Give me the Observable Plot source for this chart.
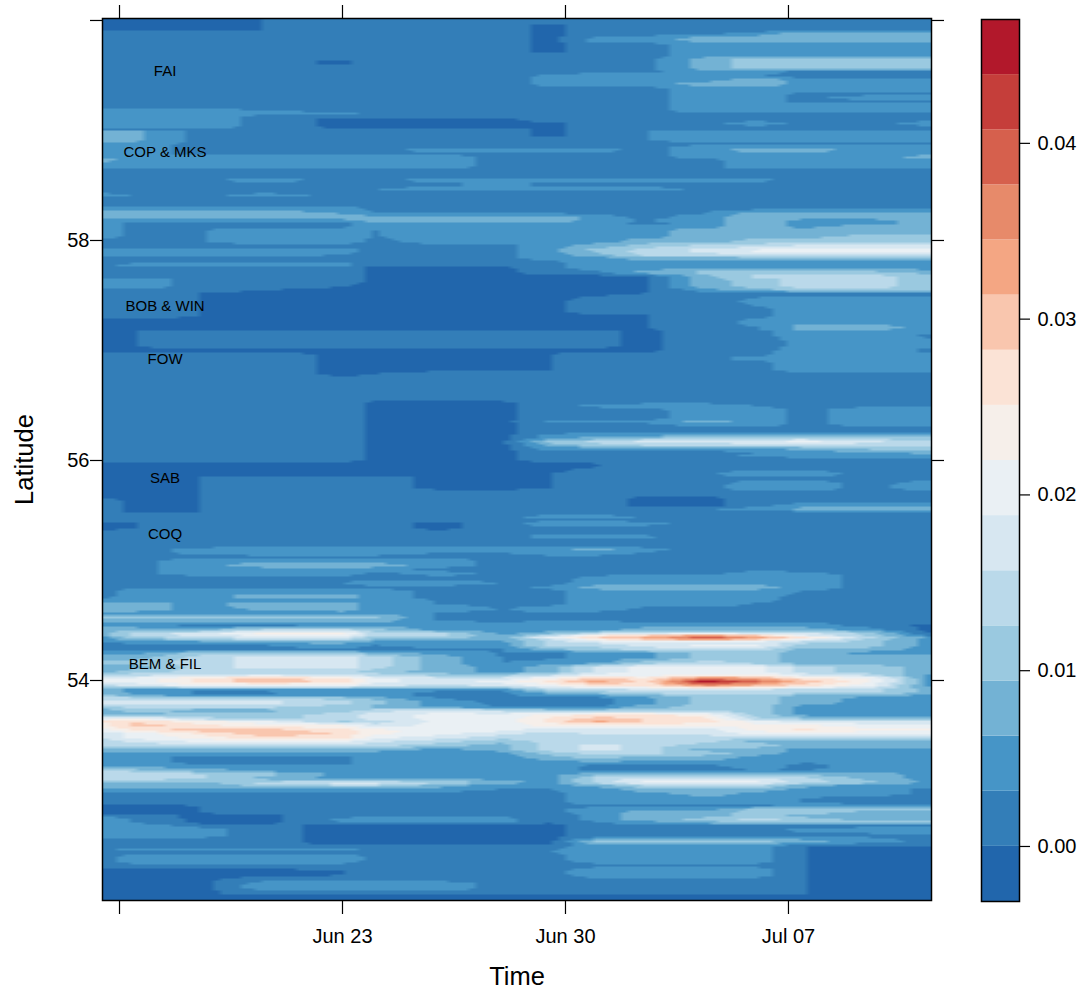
<!DOCTYPE html>
<html><head><meta charset="utf-8">
<script src="https://cdn.jsdelivr.net/npm/d3@7"></script>
<script src="https://cdn.jsdelivr.net/npm/@observablehq/plot@0.6"></script>
<style>
html,body{margin:0;padding:0;background:#fff}
#chart{position:relative;width:1087px;height:994px}
#chart svg{position:absolute;left:0;top:0;background:transparent}
</style></head><body><div id="chart"></div>
<script>
// Days since Jun 16 of each column of the value rows
const dayKnots = [-0.53,0.5,2.5,4.5,7,8,10,12,13.5,15,16.5,18.4,20,21.5,23.5,25.49];
const timeTicks = [0,7,14,21];
const timeLabels = ["","Jun 23","Jun 30","Jul 07"];
const latTicks = [54,56,58,60];
const latLabels = ["54","56","58",""];
const stationNames = ["FAI","COP & MKS","BOB & WIN","FOW","SAB","COQ","BEM & FIL"];
const stationLats = [59.54,58.80,57.40,56.92,55.84,55.33,54.15];
const stationDay = 1.43;
const legendTicks = [0,0.01,0.02,0.03,0.04];
const bandColors = ["#2166ac","#337eb8","#4695c7","#73b2d4","#9ac9e0","#bad9ea","#d7e7f1","#eaf0f4","#f6efea","#fbe3d6","#f9c6ae","#f4a683","#e78a6a","#d6604d","#c53e3a","#b2182b"];
const legendLow = -0.00313, legendStep = 0.003136;

// Each row: latitude, then value x 1000 at every day knot
const rowsNorth = [
[60.02,-1,-1,-1,0,2,2,2,2,2,2,2,2,2,2,2,2],
[59.99,-1,-1,-1,0,2,2,2,2,2,2,2,2,2,2,2,2],
[59.96,-1,-1,-1,0,2,2,2,2,-1,2,2,2,2,2,2,2],
[59.91,-1,-1,-1,0,2,2,2,2,-1,2,2,2,2,2,2,2],
[59.88,2,2,2,2,2,2,2,2,-1,2,2,2,5,8,8,8],
[59.84,2,2,2,2,2,2,2,2,-1,4,4,8,8,8,8,8],
[59.82,2,2,2,2,2,2,2,2,-1,5,5,8,9,8,8,8],
[59.78,2,2,2,2,2,2,2,2,-1,2,2,5,5,5,5,5],
[59.71,2,2,2,2,2,2,2,2,-1,2,2,5,5,5,5,5],
[59.68,2,2,2,2,2,2,2,2,2,2,2,5,5,5,5,5],
[59.65,2,2,2,2,2,2,2,2,2,2,2,8,11,11,11,11],
[59.64,2,2,2,2,-1,2,2,2,2,2,2,8,11,11,11,11],
[59.61,2,2,2,2,-1,2,2,2,2,2,2,8,11,11,11,11],
[59.56,2,2,2,2,2,2,2,2,2,2,2,8,11,11,11,11],
[59.54,2,2,2,2,2,2,2,2,2,2,2,5,5,2,2,2],
[59.49,2,2,2,2,2,2,2,2,4,5,5,5,3,2,2,2],
[59.46,2,2,2,2,2,2,2,2,4,5,5,5,8,5,5,5],
[59.42,2,2,2,2,2,2,2,2,4,5,5,8,8,5,5,5],
[59.38,2,2,2,2,2,2,2,2,2,2,2,5,5,5,5,5],
[59.33,2,2,2,2,2,2,2,2,2,2,2,5,5,2,2,2],
[59.30,2,2,2,2,2,2,2,2,2,2,2,5,5,2,5,5],
[59.26,2,2,2,2,2,2,2,2,2,2,2,5,5,2,2,2],
[59.24,2,2,2,2,2,2,2,2,2,2,2,5,5,5,5,5],
[59.21,2,2,2,2,2,2,2,2,2,2,2,5,5,5,5,5],
[59.18,5,5,5,3,2,2,2,2,2,2,2,5,5,5,5,5],
[59.15,5,5,5,5,5,2,2,2,2,2,2,2,2,2,2,2],
[59.13,5,5,5,2,2,2,2,2,2,2,2,2,2,2,2,2],
[59.10,5,5,5,2,-1,-1,-1,-1,2,2,2,2,2,2,2,2],
[59.06,5,5,5,2,-1,-1,-1,-1,-1,2,2,2,5,2,2,5],
[59.03,5,5,5,2,-1,-1,-1,-1,-1,2,2,2,2,2,2,2],
[59.01,2,2,2,2,2,2,2,2,-1,2,2,2,2,2,2,2],
[58.99,7,7,2,2,2,2,2,2,-1,2,3,5,5,5,5,5],
[58.95,7,7,2,2,2,2,2,2,-1,2,3,5,5,5,5,5],
[58.91,7,7,2,2,2,2,2,2,2,2,3,5,5,5,5,5],
[58.88,5,5,2,2,2,2,2,2,2,2,2,2,2,2,2,2],
[58.85,5,5,2,2,2,2,2,2,2,2,2,5,5,5,5,5],
[58.82,5,5,2,2,2,2,5,5,4,5,2,5,8,8,5,5],
[58.79,5,5,2,2,2,2,2,2,2,2,2,5,5,5,5,5],
[58.76,5,5,5,5,5,5,5,2,2,2,2,5,5,5,5,8],
[58.73,8,5,5,5,5,5,5,2,2,2,2,2,5,5,5,5],
[58.70,5,5,5,5,5,5,5,2,2,2,2,2,5,5,5,5],
[58.66,5,5,5,5,5,5,4,2,2,2,2,2,5,5,5,5],
[58.65,2,2,2,2,2,2,2,2,2,2,2,2,2,2,2,2],
[58.57,2,2,2,2,2,2,2,2,2,2,2,2,2,2,2,2],
[58.55,2,2,2,5,2,2,5,5,5,5,5,5,4,2,2,2],
[58.51,2,2,2,2,2,2,2,4,2,2,2,2,2,2,2,2],
[58.46,2,2,2,2,2,3,5,5,5,5,5,2,2,2,2,2],
[58.44,2,2,2,2,2,2,2,2,2,2,2,2,2,2,2,2],
[58.41,5,3,2,5,2,2,2,2,2,2,2,2,2,2,2,2],
[58.38,2,2,2,2,2,2,2,2,2,2,2,2,2,2,2,2],
[58.33,2,2,2,2,2,2,2,2,2,2,2,2,2,2,2,2],
[58.29,5,5,5,5,5,2,2,2,2,2,2,2,2,2,2,2],
[58.25,8,8,8,8,6,3,3,3,3,2,2,3,8,8,8,8],
[58.21,8,8,8,8,8,8,8,8,8,5,2,5,8,8,8,8],
[58.18,5,5,5,5,5,8,8,8,8,5,3,5,8,5,5,8],
[58.15,5,2,2,2,2,5,5,5,5,5,2,5,8,5,5,8],
[58.13,5,2,2,2,2,5,5,5,5,5,5,5,8,5,8,8],
[58.09,5,2,3,5,5,3,5,5,5,5,5,8,8,8,8,8],
[58.06,5,2,3,5,5,3,5,5,5,5,5,8,8,8,8,8],
[58.04,5,2,3,5,5,3,5,5,5,5,5,8,8,8,11,11],
[57.99,2,2,3,5,5,2,5,5,5,5,8,8,11,11,11,11],
[57.95,2,2,2,2,2,2,2,2,5,8,11,14,14,17,17,17],
[57.91,5,5,5,5,5,2,2,2,5,11,14,17,20,20,20,20],
[57.87,5,5,5,5,3,2,2,2,5,8,14,14,17,17,17,17],
[57.84,2,2,2,2,2,2,2,2,5,5,8,8,8,8,8,8],
[57.80,2,2,2,2,2,2,2,2,2,5,5,5,5,5,5,5],
[57.78,2,5,5,5,5,2,2,2,2,5,5,5,5,5,5,5],
[57.75,2,2,2,2,2,-1,-1,-1,2,5,5,5,5,5,5,5],
[57.71,2,2,2,2,2,-1,-1,-1,2,2,8,11,11,11,11,8],
[57.67,2,2,2,2,2,-1,-1,-1,-1,-1,0,8,14,14,14,11],
[57.64,5,5,2,2,2,-1,-1,-1,-1,-1,0,8,11,14,14,11],
[57.58,5,5,2,2,0,-1,-1,-1,-1,-1,0,8,11,14,14,11],
[57.55,2,2,2,0,-1,-1,-1,-1,-1,-1,0,5,8,11,11,11],
[57.52,2,2,0,-1,-1,-1,-1,-1,-1,-1,0,2,2,2,2,2],
[57.45,2,2,0,-1,-1,-1,-1,-1,-1,2,2,2,4,5,5,5],
[57.35,2,2,0,-1,-1,-1,-1,-1,-1,2,2,2,2,5,5,5]
];
const rowsMiddle = [
[57.32,2,2,0,-1,-1,-1,-1,-1,-1,-1,0,2,2,5,5,5],
[57.27,-1,-1,-1,-1,-1,-1,-1,-1,-1,-1,0,2,4,5,5,5],
[57.20,-1,-1,-1,-1,-1,-1,-1,-1,-1,-1,0,2,3,8,8,5],
[57.17,-1,0,2,2,2,2,2,2,2,1,-1,2,2,5,5,5],
[57.13,-1,0,2,2,2,2,2,2,2,1,-1,2,2,5,5,2],
[57.09,-1,0,2,2,2,2,2,2,2,1,-1,2,2,4,5,5],
[57.04,-1,0,2,2,2,2,2,2,2,1,-1,2,2,4,5,5],
[57.00,-1,-1,-1,-1,-1,-1,-1,-1,-1,-1,-1,2,2,5,5,2],
[56.96,2,2,2,2,-1,-1,-1,-1,0,2,2,2,2,5,5,5],
[56.93,2,2,2,2,-1,-1,-1,-1,0,2,2,2,5,5,5,5],
[56.89,2,2,2,2,-1,-1,-1,-1,0,2,2,2,2,5,5,5],
[56.82,2,2,2,2,-1,-1,-1,-1,0,2,2,2,2,5,5,5],
[56.79,2,2,2,2,-1,0,2,2,2,2,2,2,2,2,2,2],
[56.70,2,2,2,2,2,2,2,2,2,2,2,2,2,2,2,2],
[56.55,2,2,2,2,2,2,2,2,2,2,2,2,2,2,2,2],
[56.53,2,2,2,2,2,-1,-1,-1,2,2,2,2,2,2,2,2],
[56.50,2,2,2,2,2,-1,-1,-1,2,4,5,5,3,2,2,2],
[56.46,2,2,2,2,2,-1,-1,-1,2,2,2,5,5,2,5,5],
[56.38,2,2,2,2,2,-1,-1,-1,2,2,2,5,5,2,5,5],
[56.35,2,2,2,2,2,-1,-1,-1,4,5,5,8,5,2,5,5],
[56.33,2,2,2,2,2,-1,-1,-1,2,2,2,5,5,2,5,5],
[56.29,2,2,2,2,2,-1,-1,-1,2,2,2,2,2,2,2,2],
[56.26,2,2,2,2,2,-1,-1,-1,2,2,2,2,2,2,2,2],
[56.23,2,2,2,2,2,-1,-1,-1,4,5,5,8,8,8,8,8],
[56.20,2,2,2,2,2,-1,-1,-1,5,8,11,11,14,14,11,11],
[56.17,2,2,2,2,2,-1,-1,-1,11,14,17,17,18,20,17,14],
[56.14,2,2,2,2,2,-1,-1,-1,8,11,14,14,14,14,14,14],
[56.11,2,2,2,2,2,-1,-1,-1,5,5,5,5,5,8,11,11],
[56.07,2,2,2,2,2,-1,-1,-1,2,2,2,2,3,5,5,8],
[56.05,2,2,2,2,2,-1,-1,-1,2,2,2,2,4,5,5,5],
[56.01,2,2,2,2,2,-1,-1,-1,2,2,2,2,2,2,2,2],
[55.97,-1,-1,-1,-1,-1,-1,-1,-1,-1,0,2,2,2,2,2,2],
[55.94,-1,-1,-1,-1,-1,-1,-1,-1,-1,0,2,2,2,2,2,2],
[55.87,-1,-1,-1,-1,-1,-1,-1,-1,0,2,2,3,5,5,2,2],
[55.85,-1,-1,0,2,2,2,-1,-1,0,2,2,2,2,2,2,2],
[55.78,-1,-1,0,2,2,2,-1,-1,0,2,2,2,5,5,2,5],
[55.75,-1,-1,0,2,2,2,-1,-1,0,2,2,2,5,5,2,5],
[55.70,-1,-1,0,2,2,2,2,2,2,2,2,2,2,2,2,2],
[55.66,-1,-1,0,2,2,2,2,2,2,2,-1,-1,2,2,2,2],
[55.63,2,-1,0,2,2,2,2,2,2,2,-1,-1,2,2,2,2],
[55.59,2,-1,0,2,2,2,2,2,2,2,-1,-1,2,5,5,5],
[55.56,2,-1,0,2,2,2,2,2,2,2,2,3,5,8,8,8],
[55.53,2,-1,0,2,2,2,2,2,2,2,2,2,2,2,2,2],
[55.51,2,2,2,2,2,2,2,2,2,2,2,2,2,2,2,2],
[55.49,2,2,2,2,2,2,2,2,5,5,3,2,2,2,2,2],
[55.46,2,2,2,2,2,2,2,2,2,2,2,2,2,2,2,2],
[55.43,-1,0,2,2,2,2,-1,2,5,5,4,2,2,2,2,2],
[55.38,-1,0,2,2,2,2,-1,2,2,2,2,2,2,2,2,2],
[55.35,2,2,2,2,2,2,2,2,2,2,2,2,2,2,2,2],
[55.33,2,2,2,2,2,2,2,2,2,2,2,2,2,2,2,2],
[55.31,2,2,2,2,2,2,2,2,5,5,4,2,2,2,2,2],
[55.28,2,2,2,2,2,2,2,2,2,2,2,2,2,2,2,2],
[55.23,2,2,2,2,2,2,2,2,2,2,2,2,2,2,2,2],
[55.19,2,2,4,5,5,5,5,5,5,8,4,2,2,2,2,2],
[55.16,2,2,4,5,5,5,3,3,5,5,3,2,2,2,2,2],
[55.12,2,2,2,2,2,2,2,2,2,2,2,2,2,2,2,2],
[55.09,2,2,5,5,5,4,5,2,2,2,2,2,2,2,2,2],
[55.05,2,2,5,8,8,8,5,2,2,2,2,2,2,2,2,2],
[55.01,2,2,5,5,5,5,2,2,2,2,2,2,2,2,2,2],
[54.97,2,2,5,5,5,2,5,2,2,2,2,2,5,4,2,2],
[54.94,2,2,2,2,2,2,2,2,2,4,5,5,5,5,2,2],
[54.88,2,2,2,2,3,5,5,3,2,5,5,5,5,5,2,2],
[54.85,2,2,2,2,2,2,2,2,4,8,8,8,8,5,2,2],
[54.81,2,5,5,5,5,5,2,2,2,5,5,5,5,3,2,2],
[54.76,2,5,5,8,8,5,2,2,2,5,5,5,4,2,2,2],
[54.73,5,5,5,5,5,5,3,3,2,5,5,5,4,2,2,2],
[54.70,8,8,5,8,8,5,3,2,2,5,5,5,3,2,2,2],
[54.65,8,8,5,7,8,5,5,3,5,5,2,2,2,2,2,2],
[54.61,5,5,5,5,5,5,3,2,3,2,2,2,2,2,2,2]
];
const rowsSouth = [
[54.58,11,11,11,11,11,11,3,2,3,3,2,2,2,2,2,2],
[54.55,8,8,8,8,8,8,3,2,3,3,2,2,2,2,2,2],
[54.50,5,5,2,2,5,5,5,5,5,5,5,5,5,5,2,-1],
[54.46,8,8,8,14,14,11,5,5,5,5,8,8,8,8,5,-1],
[54.43,8,14,17,23,23,14,14,5,8,14,17,17,17,17,11,-1],
[54.41,8,13,17,20,20,14,14,6,14,24,28,33,28,19,12,2],
[54.39,5,11,14,17,17,11,11,8,20,28,32,40,33,26,14,5],
[54.37,4,8,10,14,14,8,8,7,14,24,28,33,28,19,12,5],
[54.35,3,5,5,8,8,5,5,5,14,17,20,17,17,14,11,5],
[54.32,2,2,2,3,5,3,5,5,14,14,17,20,20,11,11,5],
[54.28,2,2,2,2,3,2,2,3,8,11,14,14,14,8,8,5],
[54.25,5,5,11,11,11,8,5,3,2,5,5,11,11,8,5,5],
[54.21,8,8,14,17,17,14,8,3,2,5,5,11,11,8,8,8],
[54.16,11,11,14,17,17,14,8,3,5,5,11,14,11,8,8,8],
[54.12,8,8,14,17,17,14,8,5,8,17,20,20,20,14,11,8],
[54.08,8,11,14,14,14,11,8,5,8,17,20,20,20,14,11,8],
[54.05,14,14,17,17,17,14,11,11,14,20,20,23,23,17,14,5],
[54.02,20,20,26,30,26,20,17,17,23,30,26,36,33,26,23,5],
[53.99,20,20,26,30,27,20,17,20,26,33,27,46,38,30,23,5],
[53.95,14,17,20,20,20,17,14,17,20,26,26,34,30,26,20,5],
[53.92,8,5,5,5,5,5,5,5,14,14,17,17,17,14,14,8],
[53.89,8,5,2,2,5,5,2,2,8,11,14,14,14,14,14,8],
[53.86,11,8,5,5,5,5,2,2,5,5,8,11,11,8,8,5],
[53.84,14,14,14,14,11,8,3,2,2,2,5,11,11,8,5,5],
[53.80,17,17,17,17,14,11,5,2,2,2,5,11,11,8,5,5],
[53.76,11,14,14,14,11,8,5,3,2,2,8,11,11,5,5,5],
[53.73,8,11,8,8,11,14,17,14,11,11,11,11,11,5,5,5],
[53.69,8,8,11,11,14,17,20,20,23,26,26,23,11,5,5,5],
[53.65,20,23,14,11,14,17,20,20,26,30,28,26,14,11,11,11],
[53.63,26,28,23,20,11,14,20,20,26,33,28,27,20,17,17,17],
[53.59,23,30,26,23,23,17,20,20,23,23,23,23,23,23,20,20],
[53.55,20,26,30,30,26,23,20,20,17,17,17,17,23,26,23,23],
[53.52,17,20,26,30,28,23,20,17,14,17,17,17,20,20,20,20],
[53.48,17,20,23,28,26,20,17,14,14,14,14,14,14,14,14,14],
[53.45,14,17,20,20,20,17,14,11,14,14,14,14,8,8,8,8],
[53.41,14,14,14,14,14,14,11,8,14,17,14,11,11,8,8,8],
[53.37,8,8,8,8,8,8,5,8,14,17,14,8,8,5,5,5],
[53.34,5,5,5,5,5,5,5,5,11,14,14,11,8,5,5,5],
[53.30,5,5,2,2,2,5,5,5,8,11,8,8,5,5,5,5],
[53.25,5,5,2,2,2,5,5,3,5,5,5,5,5,3,5,5],
[53.22,5,5,5,5,5,5,5,5,5,2,2,2,5,2,5,5],
[53.18,14,11,8,5,5,5,5,5,5,2,2,2,3,3,5,5],
[53.15,15,15,13,11,5,5,5,5,5,8,8,8,8,8,8,5],
[53.11,15,15,13,8,5,5,5,5,5,14,17,17,17,14,8,5],
[53.07,8,8,8,14,17,17,14,8,5,14,20,20,20,14,11,5],
[53.05,8,8,8,11,14,14,8,5,5,8,14,14,14,8,5,5],
[53.01,5,5,5,5,5,5,5,3,3,5,8,8,8,5,5,2],
[52.97,2,2,2,2,2,2,2,2,2,5,5,8,5,5,5,2],
[52.93,2,2,2,2,2,2,2,2,2,5,5,5,5,3,2,2],
[52.89,2,2,2,2,2,2,2,2,2,5,5,5,5,3,2,2],
[52.86,-1,-1,0,2,2,2,2,2,2,2,2,2,2,5,5,5],
[52.83,-1,-1,0,2,2,2,2,2,2,5,5,5,11,11,11,11],
[52.80,-1,-1,0,2,2,2,2,2,2,5,8,8,11,11,8,8],
[52.77,2,2,-1,-1,2,2,2,2,0,5,8,8,11,8,8,8],
[52.74,5,3,-1,-1,4,5,5,5,0,5,8,11,14,11,8,8],
[52.71,5,3,-1,-1,3,5,5,5,0,3,5,8,11,11,11,11],
[52.68,5,5,2,1,-1,-1,-1,-1,-1,2,2,2,2,2,2,2],
[52.64,5,5,5,1,-1,-1,-1,-1,-1,2,2,2,2,4,5,5],
[52.59,5,5,5,1,-1,-1,-1,-1,-1,2,2,2,2,2,2,2],
[52.56,2,2,2,1,-1,-1,-1,-1,-1,5,8,8,8,5,4,2],
[52.54,2,2,2,1,-1,-1,-1,-1,-1,11,11,11,11,8,5,2],
[52.52,2,2,2,1,-1,-1,-1,-1,-1,8,8,8,8,5,3,2],
[52.49,2,2,2,2,2,2,2,2,2,5,5,5,5,0,-1,-1],
[52.46,2,5,5,5,5,2,2,2,3,5,5,5,5,0,-1,-1],
[52.44,2,2,2,2,2,2,2,2,3,5,5,5,5,0,-1,-1],
[52.39,2,5,5,5,5,2,2,2,2,5,5,5,5,0,-1,-1],
[52.36,2,5,5,5,5,2,2,2,2,5,5,5,5,0,-1,-1],
[52.32,2,2,2,2,2,2,2,2,2,2,2,2,2,0,-1,-1],
[52.27,-1,-1,-1,-1,0,2,2,2,2,5,5,5,5,0,-1,-1],
[52.23,-1,-1,-1,-1,0,2,2,2,2,5,5,5,5,0,-1,-1],
[52.19,-1,-1,-1,2,2,2,2,2,2,2,2,2,2,0,-1,-1],
[52.15,-1,-1,-1,5,5,5,5,2,2,2,2,2,2,0,-1,-1],
[52.11,-1,-1,-1,5,5,5,5,2,2,2,2,2,2,0,-1,-1],
[52.08,-1,-1,-1,2,2,2,2,2,2,2,2,2,2,0,-1,-1],
[52.06,-1,-1,-1,2,2,2,2,2,2,2,2,2,2,0,-1,-1],
[52.04,-1,-1,-1,-1,-1,-1,-1,-1,-1,-1,-1,-1,-1,-1,-1,-1],
[52.00,-1,-1,-1,-1,-1,-1,-1,-1,-1,-1,-1,-1,-1,-1,-1,-1]
];

const rows = [...rowsNorth, ...rowsMiddle, ...rowsSouth];
const latsAsc = rows.map(r => r[0]).reverse();
const rowsAsc = rows.map(r => r.slice(1)).reverse();
const breaks = bandColors.slice(1).map((_, i) => legendLow + (i + 1) * legendStep);
const colorOpts = {type: "threshold", domain: breaks, range: bandColors};

function locate(list, v) {
  const i = Math.min(list.length - 2, Math.max(0, d3.bisectRight(list, v) - 1));
  const t = Math.min(1, Math.max(0, (v - list[i]) / (list[i + 1] - list[i])));
  return [i, t];
}
function sample(day, lat) {
  const [c, u] = locate(dayKnots, day);
  const [r, w] = locate(latsAsc, lat);
  const a = rowsAsc[r][c] * (1 - u) + rowsAsc[r][c + 1] * u;
  const b = rowsAsc[r + 1][c] * (1 - u) + rowsAsc[r + 1][c + 1] * u;
  return (a * (1 - w) + b * w) / 1000;
}

const fontFamily = "'Liberation Sans', Arial, sans-serif";
const tickFont = 20;
const style = {fontFamily, background: "transparent", color: "#000", overflow: "visible"};

const main = Plot.plot({
  width: 1087, height: 994,
  marginLeft: 102, marginRight: 156, marginTop: 18, marginBottom: 94,
  style,
  x: {domain: [-0.534, 25.49], label: null},
  y: {domain: [52, 60.018], label: null},
  color: colorOpts,
  marks: [
    Plot.raster({fill: sample, x1: -0.534, x2: 25.49, y1: 52, y2: 60.018, width: 120, height: 441, imageRendering: "auto"}),
    Plot.text(stationNames, {x: () => stationDay, y: (d, i) => stationLats[i], text: d => d, fontSize: 15, fill: "#000"}),
    Plot.frame({stroke: "#000", strokeWidth: 1.5}),
    Plot.axisX(timeTicks, {anchor: "bottom", tickSize: 14, tickPadding: 14, fontSize: tickFont, strokeWidth: 1.2, label: null, tickFormat: d => timeLabels[timeTicks.indexOf(d)]}),
    Plot.axisX(timeTicks, {anchor: "top", tickSize: 14, fontSize: tickFont, strokeWidth: 1.2, label: null, tickFormat: () => ""}),
    Plot.axisY(latTicks, {anchor: "left", tickSize: 12, tickPadding: 1, fontSize: tickFont, strokeWidth: 1.2, label: null, tickFormat: d => latLabels[latTicks.indexOf(d)]}),
    Plot.axisY(latTicks, {anchor: "right", tickSize: 12, fontSize: tickFont, strokeWidth: 1.2, label: null, tickFormat: () => ""}),
    Plot.text(["Time"], {frameAnchor: "bottom", dy: 76, lineAnchor: "middle", fontSize: 25.5, fill: "#000"}),
    Plot.text(["Latitude"], {frameAnchor: "left", dx: -78, rotate: -90, textAnchor: "middle", fontSize: 25.5, fill: "#000"})
  ]
});

const bands = bandColors.map((_, i) => ({lo: legendLow + i * legendStep, hi: legendLow + (i + 1) * legendStep}));
const legend = Plot.plot({
  width: 1087, height: 994,
  marginLeft: 981, marginRight: 68, marginTop: 19, marginBottom: 93,
  style,
  x: {domain: [0, 1], axis: null},
  y: {domain: [legendLow, legendLow + 16 * legendStep], label: null},
  color: colorOpts,
  marks: [
    Plot.rect(bands, {x1: () => 0, x2: () => 1, y1: "lo", y2: "hi", fill: d => (d.lo + d.hi) / 2}),
    Plot.frame({stroke: "#000", strokeWidth: 1.5}),
    Plot.axisY(legendTicks, {anchor: "right", tickSize: 10, tickPadding: 8, fontSize: tickFont, strokeWidth: 1.2, label: null, tickFormat: ".2f"})
  ]
});

const host = document.getElementById("chart");
host.append(main, legend);
</script></body></html>
